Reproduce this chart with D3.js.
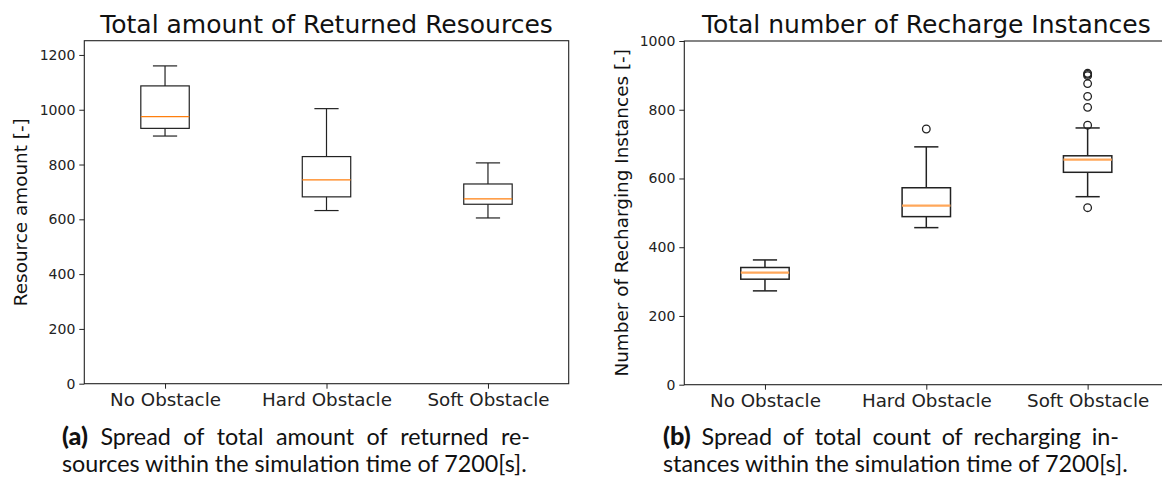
<!DOCTYPE html>
<html>
<head>
<meta charset="utf-8">
<script src="https://cdn.jsdelivr.net/npm/d3@7"></script>
<style>
  body { margin: 0; background: #fff; }
  svg { display: block; }
</style>
</head>
<body>
<svg id="fig" width="1162" height="480"></svg>
<script>
// Scenario names shared by both panels
const categories = ["No Obstacle", "Hard Obstacle", "Soft Obstacle"];

// (a) Total amount of returned resources — box plot statistics per scenario
const resWhiskerLow  = [904, 632, 605];
const resQ1          = [932, 682, 655];
const resMedian      = [975, 744, 675];
const resQ3          = [1087, 829, 729];
const resWhiskerHigh = [1160, 1004, 806];
const resOutliers    = [[], [], []];
const resTicks       = [0, 200, 400, 600, 800, 1000, 1200];

// (b) Total number of recharge instances — box plot statistics per scenario
const rechWhiskerLow  = [273, 457, 547];
const rechQ1          = [307, 489, 618];
const rechMedian      = [326, 521, 655];
const rechQ3          = [341, 573, 666];
const rechWhiskerHigh = [363, 692, 747];
const rechOutliers    = [[], [744], [515, 755, 807, 839, 876, 899, 903, 906]];
const rechTicks       = [0, 200, 400, 600, 800, 1000];

const svg = d3.select("#fig");
svg.append("rect").attr("width", 1162).attr("height", 480).attr("fill", "#fff");

function boxPanel(cfg) {
  const g = svg.append("g");
  const x = d3.scaleLinear().domain([0.5, 3.5]).range([cfg.left, cfg.left + cfg.width]);
  const y = d3.scaleLinear().domain([0, cfg.yMax]).range([cfg.top + cfg.height, cfg.top]);
  const boxW = 0.3, capW = 0.15;

  const rows = categories.map((c, i) => ({
    pos: i + 1, lo: cfg.lo[i], q1: cfg.q1[i], med: cfg.med[i],
    q3: cfg.q3[i], hi: cfg.hi[i], out: cfg.out[i]
  }));

  // frame
  g.append("rect")
    .attr("x", cfg.left).attr("y", cfg.top)
    .attr("width", cfg.width).attr("height", cfg.height)
    .attr("fill", "none").attr("stroke", "#222").attr("stroke-width", 1.1);

  // y axis
  const ya = g.append("g").attr("transform", `translate(${cfg.left},0)`)
    .call(d3.axisLeft(y).tickValues(cfg.ticks).tickSize(5).tickPadding(4).tickFormat(d3.format("d")));
  ya.select(".domain").remove();
  ya.attr("font-family", null).attr("font-size", null);
  ya.selectAll(".tick line").attr("stroke", "#222").attr("stroke-width", 1);
  ya.selectAll(".tick text").attr("fill", "#222")
    .style("font-family", "'DejaVu Sans'").style("font-size", "14px");

  // x axis
  const xa = g.append("g").attr("transform", `translate(0,${cfg.top + cfg.height})`)
    .call(d3.axisBottom(x).tickValues([1, 2, 3]).tickSize(5).tickPadding(4)
      .tickFormat(d => categories[d - 1]));
  xa.select(".domain").remove();
  xa.attr("font-family", null).attr("font-size", null);
  xa.selectAll(".tick line").attr("stroke", "#222").attr("stroke-width", 1);
  xa.selectAll(".tick text").attr("fill", "#222")
    .style("font-family", "'DejaVu Sans'").style("font-size", "18.3px");

  const sw = cfg.lineWidth;
  const bx = g.append("g").attr("stroke", "#222").attr("stroke-width", sw).attr("fill", "none");

  rows.forEach(r => {
    const cx = x(r.pos);
    const hw = x(r.pos + boxW / 2) - cx;
    const cw = x(r.pos + capW / 2) - cx;
    // whiskers
    bx.append("line").attr("x1", cx).attr("x2", cx).attr("y1", y(r.q3)).attr("y2", y(r.hi));
    bx.append("line").attr("x1", cx).attr("x2", cx).attr("y1", y(r.q1)).attr("y2", y(r.lo));
    // caps
    bx.append("line").attr("x1", cx - cw).attr("x2", cx + cw).attr("y1", y(r.hi)).attr("y2", y(r.hi));
    bx.append("line").attr("x1", cx - cw).attr("x2", cx + cw).attr("y1", y(r.lo)).attr("y2", y(r.lo));
    // box
    bx.append("rect").attr("x", cx - hw).attr("y", y(r.q3))
      .attr("width", 2 * hw).attr("height", y(r.q1) - y(r.q3));
    // median
    g.append("line").attr("x1", cx - hw).attr("x2", cx + hw)
      .attr("y1", y(r.med)).attr("y2", y(r.med))
      .attr("stroke", cfg.medColor).attr("stroke-width", cfg.medWidth);
    // fliers
    g.selectAll(null).data(r.out).enter().append("circle")
      .attr("cx", cx).attr("cy", d => y(d)).attr("r", 3.8)
      .attr("fill", "none").attr("stroke", "#222").attr("stroke-width", 1.3);
  });

  // title
  g.append("text").attr("x", cfg.left + cfg.width / 2).attr("y", cfg.top - 8)
    .attr("text-anchor", "middle").attr("fill", "#111")
    .style("font-family", "'DejaVu Sans'").style("font-size", "25px")
    .text(cfg.title);

  // y label
  g.append("text")
    .attr("transform", `translate(${cfg.ylabelX},${cfg.top + cfg.height / 2}) rotate(-90)`)
    .attr("text-anchor", "middle").attr("dy", "0.35em").attr("fill", "#111")
    .style("font-family", "'DejaVu Sans'").style("font-size", "18.4px")
    .text(cfg.ylabel);
}

boxPanel({
  left: 84.3, top: 40.7, width: 484.4, height: 343, yMax: 1252,
  lo: resWhiskerLow, q1: resQ1, med: resMedian, q3: resQ3, hi: resWhiskerHigh, out: resOutliers,
  ticks: resTicks, title: "Total amount of Returned Resources", ylabel: "Resource amount [-]",
  ylabelX: 21, lineWidth: 1.2, medColor: "#ff7f0e", medWidth: 1.2
});

boxPanel({
  left: 684.3, top: 41, width: 484, height: 343.7, yMax: 1000,
  lo: rechWhiskerLow, q1: rechQ1, med: rechMedian, q3: rechQ3, hi: rechWhiskerHigh, out: rechOutliers,
  ticks: rechTicks, title: "Total number of Recharge Instances", ylabel: "Number of Recharging Instances [-]",
  ylabelX: 622, lineWidth: 1.5, medColor: "#ffa75a", medWidth: 2.2
});

// Sub-figure captions: first line justified, second line set naturally
const capFont = "Lato, 'Noto Sans', sans-serif";
function caption(x0, x1, tag, line1, line2, y1, y2, line2Width) {
  const g = svg.append("g").attr("fill", "#111").style("font-family", capFont);
  // size the text so the closing line spans its measured width
  const probe = g.append("text").style("font-size", "20px").text(line2);
  const size = 20 * line2Width / probe.node().getComputedTextLength();
  probe.remove();

  const pieces = [{ t: tag, bold: true }].concat(line1.split(" ").map(t => ({ t, bold: false })));
  const nodes = pieces.map(p => g.append("text").attr("y", y1)
    .style("font-size", (p.bold ? size * 1.08 : size) + "px")
    .style("font-weight", p.bold ? "900" : "normal").text(p.t));
  const widths = nodes.map(n => n.node().getComputedTextLength());
  const gap = (x1 - x0 - d3.sum(widths)) / (nodes.length - 1);
  let cx = x0;
  nodes.forEach((n, i) => { n.attr("x", cx); cx += widths[i] + gap; });

  g.append("text").attr("x", x0).attr("y", y2).style("font-size", size + "px").text(line2);
}

caption(62, 530, "(a)", "Spread of total amount of returned re-",
  "sources within the simulation time of 7200[s].", 445, 472, 465);
caption(663, 1119, "(b)", "Spread of total count of recharging in-",
  "stances within the simulation time of 7200[s].", 445, 472, 465);
</script>
</body>
</html>
